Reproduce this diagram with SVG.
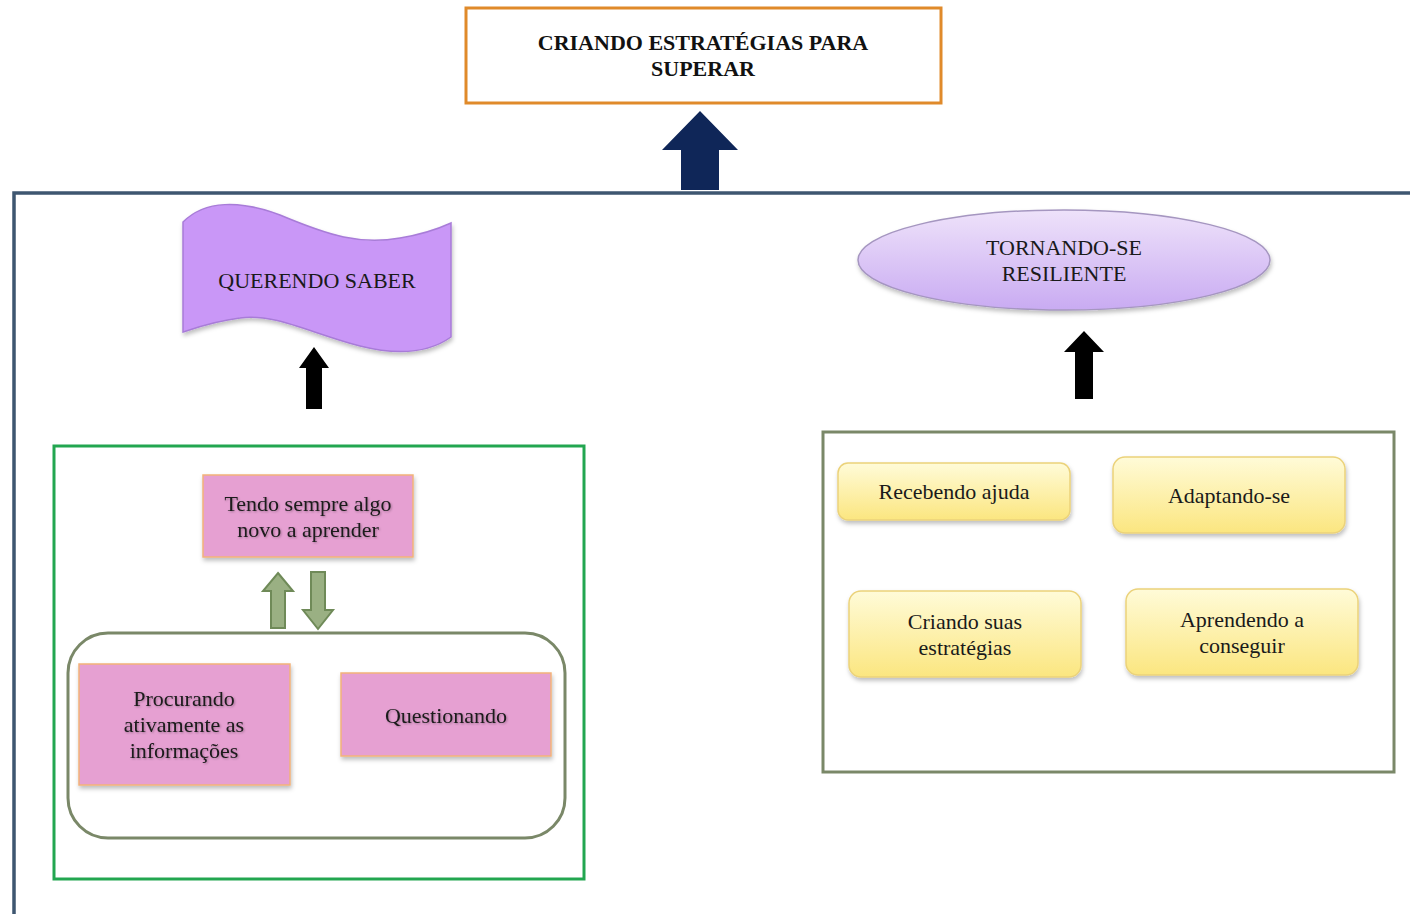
<svg xmlns="http://www.w3.org/2000/svg" width="1410" height="914" viewBox="0 0 1410 914">
  <defs>
    <linearGradient id="ovalFill" x1="0" y1="0" x2="0" y2="1">
      <stop offset="0" stop-color="#EEE2FA"/>
      <stop offset="1" stop-color="#C9ABF2"/>
    </linearGradient>
    <linearGradient id="yellowFill" x1="0" y1="0" x2="0" y2="1">
      <stop offset="0" stop-color="#FFFBD8"/>
      <stop offset="1" stop-color="#FBE680"/>
    </linearGradient>
    <filter id="shadow" x="-10%" y="-10%" width="120%" height="130%">
      <feDropShadow dx="1" dy="3" stdDeviation="2" flood-color="#000" flood-opacity="0.25"/>
    </filter>
    <filter id="textShadow" x="-5%" y="-20%" width="110%" height="140%">
      <feDropShadow dx="1" dy="1" stdDeviation="0.8" flood-color="#000" flood-opacity="0.3"/>
    </filter>
  </defs>
  <style>
    text { font-family: "Liberation Serif", "Times New Roman", serif; font-size: 22px; fill: #1a1a1a; text-anchor: middle; }
    .title { font-weight: bold; fill: #111; }
    .pink { fill: #E6A0D2; stroke: #F2B37A; stroke-width: 1.5; filter: url(#shadow); }
    .yellow { fill: url(#yellowFill); stroke: #EBD27A; stroke-width: 1.5; filter: url(#shadow); }
    .frame { fill: none; stroke-width: 3; }
    .shadowText { filter: url(#textShadow); }
  </style>

  <rect width="1410" height="914" fill="#ffffff"/>

  <!-- outer section frame -->
  <path d="M14,914 V193 H1410" fill="none" stroke="#3E5670" stroke-width="3.5"/>

  <!-- top goal -->
  <g id="node-criando">
    <rect x="466" y="8" width="475" height="95" fill="#ffffff" stroke="#E08A2A" stroke-width="3"/>
    <text class="title" x="703" y="50">CRIANDO ESTRATÉGIAS PARA</text>
    <text class="title" x="703" y="76">SUPERAR</text>
  </g>

  <!-- left branch -->
  <g id="node-querendo">
    <path d="M183,222 C205,200 240,200 280,215 C330,236 360,245 400,238 C425,234 440,228 451,223 L451,337 C430,352 400,356 360,346 C310,333 275,313 240,318 C215,321 198,327 183,332 Z"
          fill="#C997F7" stroke="#A87CD8" stroke-width="1.5" filter="url(#shadow)"/>
    <text x="317" y="288">QUERENDO SABER</text>
  </g>

  <g id="group-left">
    <rect class="frame" x="54" y="446" width="530" height="433" stroke="#22A650"/>
  </g>

  <g id="node-tendo">
    <rect class="pink" x="203" y="475" width="210" height="82"/>
    <text class="shadowText" x="308" y="511">Tendo sempre algo</text>
    <text class="shadowText" x="308" y="537">novo a aprender</text>
  </g>

  <g id="group-acoes">
    <rect class="frame" x="68" y="633" width="497" height="205" rx="40" ry="40" stroke="#7A8868"/>
  </g>

  <g id="node-procurando">
    <rect class="pink" x="79" y="664" width="211" height="121"/>
    <text class="shadowText" x="184" y="706">Procurando</text>
    <text class="shadowText" x="184" y="732">ativamente as</text>
    <text class="shadowText" x="184" y="758">informações</text>
  </g>

  <g id="node-questionando">
    <rect class="pink" x="341" y="673" width="210" height="83"/>
    <text class="shadowText" x="446" y="723">Questionando</text>
  </g>

  <!-- right branch -->
  <g id="node-tornando">
    <ellipse cx="1064" cy="260" rx="206" ry="50" fill="url(#ovalFill)" stroke="#A596C0" stroke-width="1.5" filter="url(#shadow)"/>
    <text x="1064" y="255">TORNANDO-SE</text>
    <text x="1064" y="281">RESILIENTE</text>
  </g>

  <g id="group-right">
    <rect class="frame" x="823" y="432" width="571" height="340" stroke="#7A8868"/>
  </g>

  <g id="node-recebendo">
    <rect class="yellow" x="838" y="463" width="232" height="57" rx="10" ry="10"/>
    <text x="954" y="499">Recebendo ajuda</text>
  </g>

  <g id="node-adaptando">
    <rect class="yellow" x="1113" y="457" width="232" height="76" rx="12" ry="12"/>
    <text x="1229" y="503">Adaptando-se</text>
  </g>

  <g id="node-criando-suas">
    <rect class="yellow" x="849" y="591" width="232" height="86" rx="12" ry="12"/>
    <text x="965" y="629">Criando suas</text>
    <text x="965" y="655">estratégias</text>
  </g>

  <g id="node-aprendendo">
    <rect class="yellow" x="1126" y="589" width="232" height="86" rx="12" ry="12"/>
    <text x="1242" y="627">Aprendendo a</text>
    <text x="1242" y="653">conseguir</text>
  </g>

  <!-- connectors -->
  <g id="connectors">
    <!-- into the goal -->
    <polygon points="700,111 738,150 719,150 719,190 681,190 681,150 662,150" fill="#0F2658"/>
    <!-- into QUERENDO SABER -->
    <polygon points="314,347 329,368 322,368 322,409 306,409 306,368 299,368" fill="#000"/>
    <!-- into TORNANDO-SE RESILIENTE -->
    <polygon points="1084,331 1104,352 1093,352 1093,399 1075,399 1075,352 1064,352" fill="#000"/>
    <!-- exchange between Tendo and the actions group -->
    <polygon points="278,573 293,591 285,591 285,628 271,628 271,591 263,591" fill="#9AB083" stroke="#6F8A58" stroke-width="2"/>
    <polygon points="318,629 333,610 325,610 325,572 311,572 311,610 303,610" fill="#9AB083" stroke="#6F8A58" stroke-width="2"/>
  </g>
</svg>
